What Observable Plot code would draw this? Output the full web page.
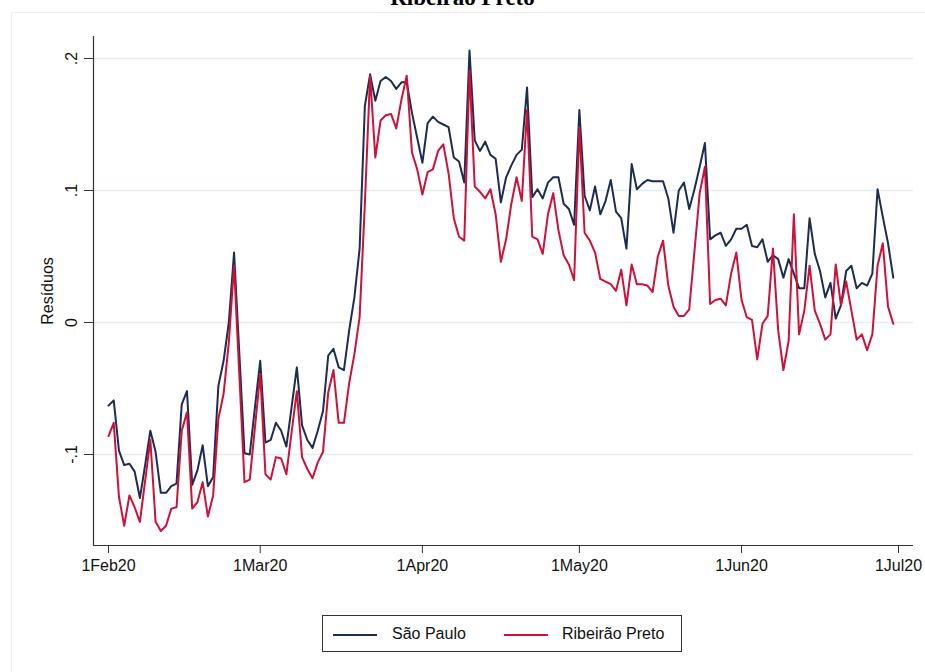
<!DOCTYPE html>
<html>
<head>
<meta charset="utf-8">
<script src="https://cdn.jsdelivr.net/npm/d3@7"></script>
<script src="https://cdn.jsdelivr.net/npm/@observablehq/plot@0.6"></script>
<style>
  html, body { margin: 0; padding: 0; background: #fff; }
  #wrap { position: relative; width: 925px; height: 672px; overflow: hidden; font-family: "Liberation Sans", Arial, sans-serif; }
  #frame { position: absolute; left: 11px; top: 12px; width: 930px; height: 680px; border: 1px solid #eeeeee; box-sizing: border-box; }
  #chart { position: absolute; left: 0; top: 0; }
  #title { position: absolute; left: 0; width: 925px; top: -14px; text-align: center; font-family: "Liberation Serif", "Times New Roman", serif; font-weight: bold; font-size: 23px; line-height: 23px; color: #000; }
  #legend { position: absolute; left: 322px; top: 615px; width: 360px; height: 37px; border: 1px solid #333; box-sizing: border-box; font-size: 16px; color: #111; }
  .sw { position: absolute; top: 18px; width: 44px; height: 0; border-top: 2px solid; }
  .lb { position: absolute; top: 8px; line-height: 20px; }
</style>
</head>
<body>
<div id="wrap">
  <div id="frame"></div>
  <div id="chart"></div>
  <div id="title">Ribeirão Preto</div>
  <div id="legend"></div>
</div>
<script>
// ---- data ----
const startDate = "2020-02-01";
const seriesNames = ["São Paulo", "Ribeirão Preto"];
const seriesColors = ["#1d2c50", "#cf1139"];
const saoPaulo = [
  -0.063, -0.059, -0.097, -0.108, -0.107, -0.113, -0.133, -0.108, -0.082, -0.098,
  -0.129, -0.129, -0.124, -0.122, -0.062, -0.052, -0.123, -0.112, -0.093, -0.124,
  -0.117, -0.048, -0.029, 0.000, 0.053, -0.023, -0.099, -0.100, -0.064, -0.029,
  -0.091, -0.089, -0.076, -0.082, -0.094, -0.064, -0.034, -0.078, -0.089, -0.095,
  -0.082, -0.067, -0.025, -0.020, -0.034, -0.036, -0.006, 0.019, 0.056, 0.164,
  0.188, 0.168, 0.183, 0.186, 0.183, 0.177, 0.182, 0.182, 0.159, 0.140,
  0.121, 0.151, 0.156, 0.152, 0.150, 0.148, 0.125, 0.122, 0.106, 0.206,
  0.138, 0.130, 0.137, 0.127, 0.124, 0.091, 0.110, 0.119, 0.127, 0.131,
  0.178, 0.095, 0.101, 0.094, 0.106, 0.110, 0.110, 0.090, 0.086, 0.074,
  0.161, 0.096, 0.085, 0.103, 0.082, 0.092, 0.108, 0.084, 0.079, 0.056,
  0.120, 0.101, 0.105, 0.108, 0.107, 0.107, 0.107, 0.094, 0.068, 0.100,
  0.106, 0.086, 0.101, 0.118, 0.136, 0.063, 0.066, 0.068, 0.058, 0.063,
  0.071, 0.071, 0.074, 0.058, 0.057, 0.063, 0.046, 0.051, 0.048, 0.034,
  0.048, 0.037, 0.026, 0.026, 0.079, 0.052, 0.039, 0.019, 0.030, 0.003,
  0.013, 0.039, 0.043, 0.026, 0.030, 0.028, 0.037, 0.101, 0.080, 0.060,
  0.034
];
const ribeiraoPreto = [
  -0.086, -0.076, -0.132, -0.154, -0.131, -0.140, -0.151, -0.120, -0.089, -0.151,
  -0.158, -0.154, -0.141, -0.140, -0.082, -0.068, -0.141, -0.136, -0.121, -0.147,
  -0.131, -0.073, -0.054, -0.015, 0.043, -0.039, -0.121, -0.119, -0.079, -0.039,
  -0.115, -0.119, -0.102, -0.103, -0.115, -0.083, -0.052, -0.102, -0.111, -0.118,
  -0.106, -0.098, -0.053, -0.036, -0.076, -0.076, -0.046, -0.024, 0.004, 0.090,
  0.187, 0.125, 0.153, 0.157, 0.158, 0.147, 0.169, 0.187, 0.129, 0.116,
  0.097, 0.114, 0.116, 0.130, 0.135, 0.113, 0.079, 0.065, 0.062, 0.191,
  0.103, 0.099, 0.094, 0.101, 0.082, 0.046, 0.063, 0.090, 0.110, 0.092,
  0.161, 0.065, 0.063, 0.052, 0.082, 0.098, 0.070, 0.051, 0.044, 0.032,
  0.148, 0.068, 0.062, 0.053, 0.033, 0.031, 0.029, 0.024, 0.040, 0.013,
  0.044, 0.029, 0.029, 0.028, 0.023, 0.050, 0.062, 0.028, 0.012, 0.005,
  0.005, 0.010, 0.054, 0.098, 0.118, 0.014, 0.017, 0.018, 0.013, 0.037,
  0.053, 0.017, 0.004, 0.002, -0.028, -0.001, 0.005, 0.056, -0.006, -0.036,
  -0.014, 0.082, -0.009, 0.009, 0.043, 0.009, -0.001, -0.013, -0.009, 0.044,
  0.013, 0.031, 0.009, -0.013, -0.009, -0.021, -0.009, 0.043, 0.060, 0.012,
  -0.001
];
const xTickDates = ["2020-02-01", "2020-03-01", "2020-04-01", "2020-05-01", "2020-06-01", "2020-07-01"];
const xTickLabels = ["1Feb20", "1Mar20", "1Apr20", "1May20", "1Jun20", "1Jul20"];
const yTicks = [-0.1, 0, 0.1, 0.2];
const yTickLabels = ["-.1", "0", ".1", ".2"];
const yTitle = "Resíduos";

// ---- build table ----
const DAY = 86400000;
const t0 = new Date(startDate + "T00:00:00Z").getTime();
const rows = [];
[saoPaulo, ribeiraoPreto].forEach((arr, si) => {
  arr.forEach((v, i) => rows.push({date: new Date(t0 + i * DAY), value: v, series: seriesNames[si]}));
});
const xTicks = xTickDates.map(s => new Date(s + "T00:00:00Z"));
const xLabelMap = new Map(xTicks.map((d, i) => [d.getTime(), xTickLabels[i]]));
const yLabelMap = new Map(yTicks.map((d, i) => [d, yTickLabels[i]]));

const W = 925, H = 672;
const mL = 93, mR = 12, mT = 36, mB = 127;
const pxPerDay = 790 / 151;
const xDomain = [new Date(t0 - (108 - mL) / pxPerDay * DAY), new Date(t0 + (W - mR - 108) / pxPerDay * DAY)];
const yDomain = [(322 - (H - mB)) / 1320, (322 - mT) / 1320];

const plot = Plot.plot({
  width: W, height: H,
  marginLeft: mL, marginRight: mR, marginTop: mT, marginBottom: mB,
  style: {background: "transparent", fontFamily: "'Liberation Sans', Arial, sans-serif", fontSize: "16px", color: "#111"},
  x: {type: "utc", domain: xDomain, axis: null},
  y: {domain: yDomain, axis: null},
  color: {domain: seriesNames, range: seriesColors},
  marks: [
    Plot.gridY(yTicks, {stroke: "#e6eff0", strokeOpacity: 1, strokeWidth: 1.3}),
    Plot.line(rows, {x: "date", y: "value", z: "series", stroke: "series", strokeWidth: 2, curve: "linear"}),
    Plot.ruleX([xDomain[0]], {stroke: "#333", strokeWidth: 1.2}),
    Plot.ruleY([yDomain[0]], {stroke: "#333", strokeWidth: 1.2}),
    Plot.axisX({ticks: xTicks, tickSize: 8, tickPadding: 6, stroke: "#333", tickFormat: d => xLabelMap.get(d.getTime()), fontSize: 16, fill: "#111", label: null}),
    Plot.axisY({ticks: yTicks, tickSize: 9, stroke: "#333", tickFormat: () => "", label: null}),
    Plot.text(yTicks, {x: () => xDomain[0], y: d => d, text: d => yLabelMap.get(d), rotate: -90, dx: -22, fontSize: 16, fill: "#111", textAnchor: "middle", lineAnchor: "middle"}),
    Plot.text([yTitle], {frameAnchor: "left", dx: -46, rotate: -90, fontSize: 16, fill: "#111", textAnchor: "middle", lineAnchor: "middle"})
  ]
});
document.getElementById("chart").appendChild(plot);

// ---- legend ----
const lg = document.getElementById("legend");
const swX = [10, 181], lbX = [69, 239];
seriesNames.forEach((name, i) => {
  const sw = document.createElement("div");
  sw.className = "sw";
  sw.style.left = swX[i] + "px";
  sw.style.borderColor = seriesColors[i];
  lg.appendChild(sw);
  const lb = document.createElement("div");
  lb.className = "lb";
  lb.style.left = lbX[i] + "px";
  lb.textContent = name;
  lg.appendChild(lb);
});
</script>
</body>
</html>
